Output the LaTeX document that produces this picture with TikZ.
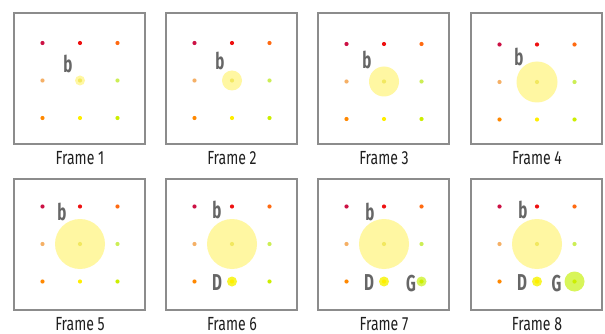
\documentclass[tikz,border=0pt]{standalone}
\usepackage{fontspec}
\newfontfamily\condlabel[FakeStretch=0.74]{Fira Sans}
\newfontfamily\condletter[FakeStretch=0.66]{Fira Sans}
\definecolor{boxgray}{HTML}{8C8C8C}
\definecolor{lettergray}{HTML}{666666}
\definecolor{dTL}{HTML}{CC1144}
\definecolor{dTM}{HTML}{EE1111}
\definecolor{dTR}{HTML}{FF6A11}
\definecolor{dML}{HTML}{F5B066}
\definecolor{dMM}{HTML}{F2E860}
\definecolor{dMR}{HTML}{CCEE55}
\definecolor{dBL}{HTML}{FF8800}
\definecolor{dBM}{HTML}{FFEE00}
\definecolor{dBR}{HTML}{CCEE00}
\definecolor{bigfill}{HTML}{FFF7A2}
\definecolor{dfill}{HTML}{F8F530}
\definecolor{gfill}{HTML}{D8F55A}
\tikzset{
  framebox/.style={draw=boxgray, line width=2pt, fill=white, minimum width=131pt, minimum height=131pt, inner sep=0pt},
  gdot/.style={circle, fill=#1, inner sep=0pt, minimum size=4.2pt},
  bigcirc/.style={circle, fill=bigfill, inner sep=0pt, minimum size=#1},
  letter/.style={font=\condletter\bfseries\fontsize{23}{23}\selectfont, text=lettergray, inner sep=0pt},
  caption/.style={font=\condlabel\fontsize{19}{19}\selectfont, text=black!88, inner sep=0pt},
}
\begin{document}
\begin{tikzpicture}[x=1pt,y=-1pt]
\useasboundingbox (0,0) rectangle (605,334);
\foreach \i/\bx/\by/\cy/\r/\bdx/\bdy/\dd/\gr/\gdx/\ly in {
  1/13/12/80.5/5/-12/-17/0/0/0/158,
  2/165/12/80.5/10/-12/-20/0/0/0/158,
  3/317/12/81.5/15/-17/-22/0/0/0/158,
  4/470/12/82/20.5/-18/-25/0/0/0/158,
  5/13/178/244/25/-18/-32/0/0/0/324,
  6/165/178/244/25/-15/-34/1/0/0/324,
  7/317/178/244/25/-14/-32/1/5/27/324,
  8/470/178/244/25/-14/-34/1/10/19.5/324}{
  \node[framebox] (box\i) at (\bx+66.5,\by+66.5) {};
  \coordinate (c\i) at (\bx+67,\cy);
  \node[bigcirc=2*\r] (big\i) at (c\i) {};
  \node[gdot=dTL] (tl\i) at ([shift={(-37.5,-37.5)}]c\i) {};
  \node[gdot=dTM] (tm\i) at ([shift={(0,-37.5)}]c\i) {};
  \node[gdot=dTR] (tr\i) at ([shift={(37.5,-37.5)}]c\i) {};
  \node[gdot=dML] (ml\i) at ([shift={(-37.5,0)}]c\i) {};
  \node[gdot=dMM] (mm\i) at (c\i) {};
  \node[gdot=dMR] (mr\i) at ([shift={(37.5,0)}]c\i) {};
  \node[gdot=dBL] (bl\i) at ([shift={(-37.5,37.5)}]c\i) {};
  \ifnum\dd=1
    \node[circle, fill=dfill, inner sep=0pt, minimum size=10pt] (dc\i) at ([shift={(0,37.5)}]c\i) {};
    \node[letter] (dl\i) at ([shift={(-15,39)}]c\i) {D};
  \fi
  \node[gdot=dBM] (bm\i) at ([shift={(0,37.5)}]c\i) {};
  \ifnum\gr>0
    \node[circle, fill=gfill, inner sep=0pt, minimum size=2*\gr] (gc\i) at ([shift={(37.5,37.5)}]c\i) {};
    \node[letter] (gl\i) at ([shift={(\gdx,40)}]c\i) {G};
  \fi
  \node[gdot=dBR] (br\i) at ([shift={(37.5,37.5)}]c\i) {};
  \node[letter] (b\i) at ([shift={(\bdx,\bdy)}]c\i) {b};
  \node[caption] (cap\i) at (\bx+67,\ly) {Frame \i};
}
\end{tikzpicture}
\end{document}
